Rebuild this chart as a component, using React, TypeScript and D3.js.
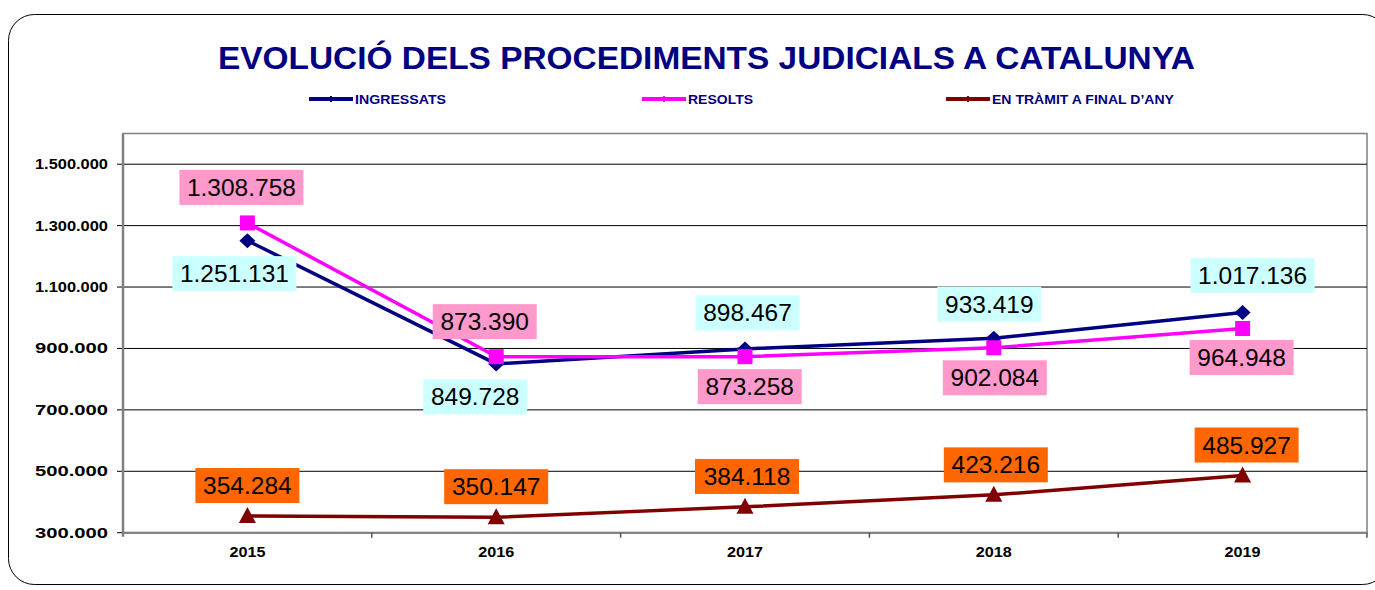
import React from 'react';
import * as d3 from 'd3';

// anys i valors (llegits de les etiquetes)
const years = ['2015', '2016', '2017', '2018', '2019'];
const ingressats = [1251131, 849728, 898467, 933419, 1017136];
const resolts = [1308758, 873390, 873258, 902084, 964948];
const enTramit = [354284, 350147, 384118, 423216, 485927];
const yTicks = [300000, 500000, 700000, 900000, 1100000, 1300000, 1500000];

const title = 'EVOLUCIÓ DELS PROCEDIMENTS JUDICIALS A CATALUNYA';
const seriesNames = ['INGRESSATS', 'RESOLTS', 'EN TRÀMIT A FINAL D\u2019ANY'];

// label offsets (px) relative to each point: [dx, dy of label centre]
const ingOffsets = [[-13, 33], [-21, 33], [2.5, -36], [-4.5, -34], [10, -37]];
const resOffsets = [[-6, -35.5], [-11.5, -35], [4.7, 30], [1, 30], [-1, 29]];
const traOffsets = [[0, -30.5], [0, -30.6], [2, -30.4], [2, -30], [4, -30.6]];

const W = 1375;
const H = 590;
const margin = {top: 133.5, right: 8, bottom: 57.3, left: 123};

const fmt = (v: number) => d3.format(',')(v).replace(/,/g, '.');

// marker shapes
const diamond = 'M0,-7.5L8,0L0,7.5L-8,0Z';
const square = 'M-7.5,-7.5H7.5V7.5H-7.5Z';
const triangle = 'M0,-9L8.5,7H-8.5Z';

const App = () => {
  const x = d3.scaleBand().domain(years).range([margin.left, W - margin.right]);
  const y = d3.scaleLinear().domain([300000, 1600000]).range([H - margin.bottom, margin.top]);
  const cx = (d: string) => (x(d) as number) + x.bandwidth() / 2;
  const line = d3.line<number>().x((d, i) => cx(years[i])).y(d => y(d));

  const series = [
    {name: seriesNames[0], values: ingressats, color: '#000080', bg: '#CCFFFF', offs: ingOffsets, shape: diamond, lw: 91},
    {name: seriesNames[1], values: resolts, color: '#FF00FF', bg: '#FF99CC', offs: resOffsets, shape: square, lw: 65},
    {name: seriesNames[2], values: enTramit, color: '#800000', bg: '#FF6600', offs: traOffsets, shape: triangle, lw: 182},
  ];
  const legendX = [309, 642, 946];

  const x0 = margin.left;
  const x1 = W - margin.right;
  const yb = H - margin.bottom;

  return (
    <svg width={W} height={H} style={{position: 'absolute', left: 0, top: 0}} fontFamily="Arial, 'Liberation Sans', sans-serif">
      <rect x={0} y={0} width={W} height={H} fill="#fff" />
      <rect x={8.5} y={14.5} width={1380} height={570} rx={26} fill="none" stroke="#000" strokeWidth={1} />
      <text x={706.5} y={69} textAnchor="middle" fontSize={32} fontWeight="bold" fill="#000080" textLength={977} lengthAdjust="spacingAndGlyphs">{title}</text>

      {series.map((s, i) => (
        <g key={s.name}>
          <line x1={legendX[i]} x2={legendX[i] + 44} y1={99} y2={99} stroke={s.color} strokeWidth={4} />
          <line x1={legendX[i] + 22} x2={legendX[i] + 22} y1={96} y2={102} stroke={s.color} strokeWidth={2} />
          <text x={legendX[i] + 46} y={103.5} fontSize={12} fontWeight="bold" fill="#000080" textLength={s.lw} lengthAdjust="spacingAndGlyphs">{s.name}</text>
        </g>
      ))}

      {/* plot area */}
      <rect x={x0} y={margin.top} width={x1 - x0} height={yb - margin.top} fill="none" stroke="#808080" strokeWidth={1.5} />
      {yTicks.map(t => (
        <g key={t}>
          <line x1={x0} x2={x1} y1={y(t)} y2={y(t)} stroke="#000" strokeWidth={1} />
          <line x1={x0 - 6} x2={x0} y1={y(t)} y2={y(t)} stroke="#000" strokeWidth={1} />
          <text x={108} y={y(t) + 5} textAnchor="end" fontSize={14} fontWeight="bold" fill="#000" textLength={73} lengthAdjust="spacingAndGlyphs">{fmt(t)}</text>
        </g>
      ))}
      <line x1={x0} x2={x0} y1={margin.top} y2={yb + 4} stroke="#808080" strokeWidth={2.5} />
      <line x1={x0} x2={x1} y1={yb} y2={yb} stroke="#808080" strokeWidth={2} />
      {years.map(yr => (
        <g key={yr}>
          <line x1={(x(yr) as number) + x.bandwidth()} x2={(x(yr) as number) + x.bandwidth()} y1={yb} y2={yb + 5} stroke="#555" strokeWidth={1.5} />
          <text x={cx(yr)} y={yb + 24} textAnchor="middle" fontSize={15.5} fontWeight="bold" fill="#000" textLength={36} lengthAdjust="spacingAndGlyphs">{yr}</text>
        </g>
      ))}

      {series.map(s => (
        <g key={s.name + 'l'}>
          <path d={line(s.values) as string} fill="none" stroke={s.color} strokeWidth={3.5} />
          {s.values.map((v, i) => (
            <path key={i} d={s.shape} transform={`translate(${cx(years[i])},${y(v)})`} fill={s.color} />
          ))}
        </g>
      ))}

      {series.map(s => s.values.map((v, i) => {
        const lx = cx(years[i]) + s.offs[i][0];
        const ly = y(v) + s.offs[i][1];
        const label = fmt(v);
        const bw = label.length > 7 ? 124 : 104;
        return (
          <g key={s.name + 't' + i}>
            <rect x={lx - bw / 2} y={ly - 17.5} width={bw} height={35} fill={s.bg} />
            <text x={lx} y={ly + 8.5} textAnchor="middle" fontSize={24.5} fill="#000">{label}</text>
          </g>
        );
      }))}
    </svg>
  );
};

export default App;
